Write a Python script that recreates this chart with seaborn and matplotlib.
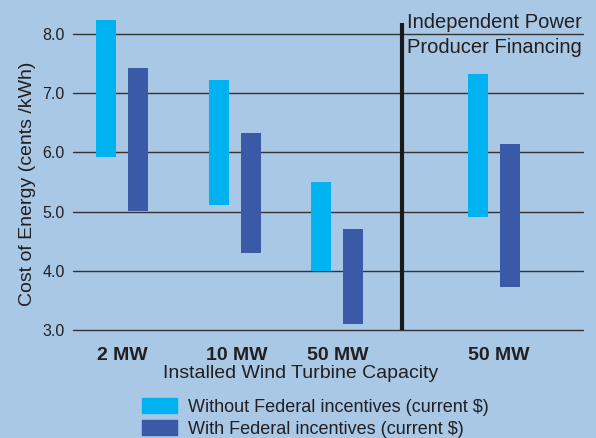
import numpy as np
import matplotlib
matplotlib.use("Agg")
import matplotlib.pyplot as plt
import matplotlib.patches as mpatches
import seaborn as sns

# data: cost ranges (cents/kWh)
categories = ['2 MW', '10 MW', '50 MW', '50 MW']
without_low = [5.92, 5.11, 4.00, 4.91]
without_high = [8.24, 7.22, 5.50, 7.32]
with_low = [5.01, 4.30, 3.10, 3.73]
with_high = [7.43, 6.33, 4.71, 6.14]
series_names = ['Without Federal incentives (current $)',
                'With Federal incentives (current $)']
yticks = [3.0, 4.0, 5.0, 6.0, 7.0, 8.0]

# layout
group_pos = [49, 162, 264, 421]
divider_x = 329
bar_w = 20
offset = 16

bg = '#a8c8e5'
light = '#00b2ef'
dark = '#3a59a7'
ink = '#231f20'

sns.set_theme(style='white')
plt.rcParams['font.family'] = ['Liberation Sans', 'DejaVu Sans']

fig = plt.figure(figsize=(5.96, 4.38), dpi=100, facecolor=bg)
ax = fig.add_axes([73/596, 1 - 330/438, 510/596, 325.6/438])
ax.set_facecolor(bg)

ax.set_xlim(0, 510)
ax.set_ylim(3.0, 8.5)
ax.set_yticks(yticks)
ax.set_yticklabels([f'{v:.1f}' for v in yticks], fontsize=11.5, color=ink)
ax.tick_params(axis='y', length=0, pad=6)
for v in yticks:
    ax.axhline(v, color='#333333', lw=1.0, zorder=1, clip_on=False)

lo_w = np.array(without_low); hi_w = np.array(without_high)
lo_f = np.array(with_low); hi_f = np.array(with_high)
xs = np.array(group_pos)
ax.bar(xs - offset, hi_w - lo_w, bottom=lo_w, width=bar_w, color=light,
       edgecolor='none', linewidth=0, zorder=2)
ax.bar(xs + offset, hi_f - lo_f, bottom=lo_f, width=bar_w, color=dark,
       edgecolor='none', linewidth=0, zorder=2)

ax.plot([divider_x, divider_x], [3.0, 8.19], color='#1a1a1a', lw=3, zorder=3,
        solid_capstyle='butt')

ax.set_xticks([49, 164, 265, 426])
ax.set_xticklabels(categories, fontsize=14, fontweight='bold', color=ink)
ax.tick_params(axis='x', length=0, pad=12)
ax.set_xlabel('Installed Wind Turbine Capacity', fontsize=14, color=ink, labelpad=3)
ax.xaxis.set_label_coords(0.447, -0.108)
ax.set_ylabel('Cost of Energy (cents /kWh)', fontsize=14, color=ink, labelpad=8)
ax.yaxis.set_label_coords(-0.072, 0.45)

ax.text(334, 8.03, 'Independent Power', fontsize=14.5, color=ink, va='bottom', ha='left')
ax.text(334, 7.93, 'Producer Financing', fontsize=14.5, color=ink, va='top', ha='left')

for s in ax.spines.values():
    s.set_visible(False)

handles = [mpatches.Patch(color=light, label=series_names[0]),
           mpatches.Patch(color=dark, label=series_names[1])]
fig.legend(handles=handles, loc='upper left', bbox_to_anchor=(135/596, 1 - 391/438),
           frameon=False, fontsize=13, handlelength=1.95, handleheight=0.9,
           labelspacing=0.22, handletextpad=0.6, labelcolor=ink, borderaxespad=0)

fig.savefig('out.png', dpi=100, facecolor=bg)
